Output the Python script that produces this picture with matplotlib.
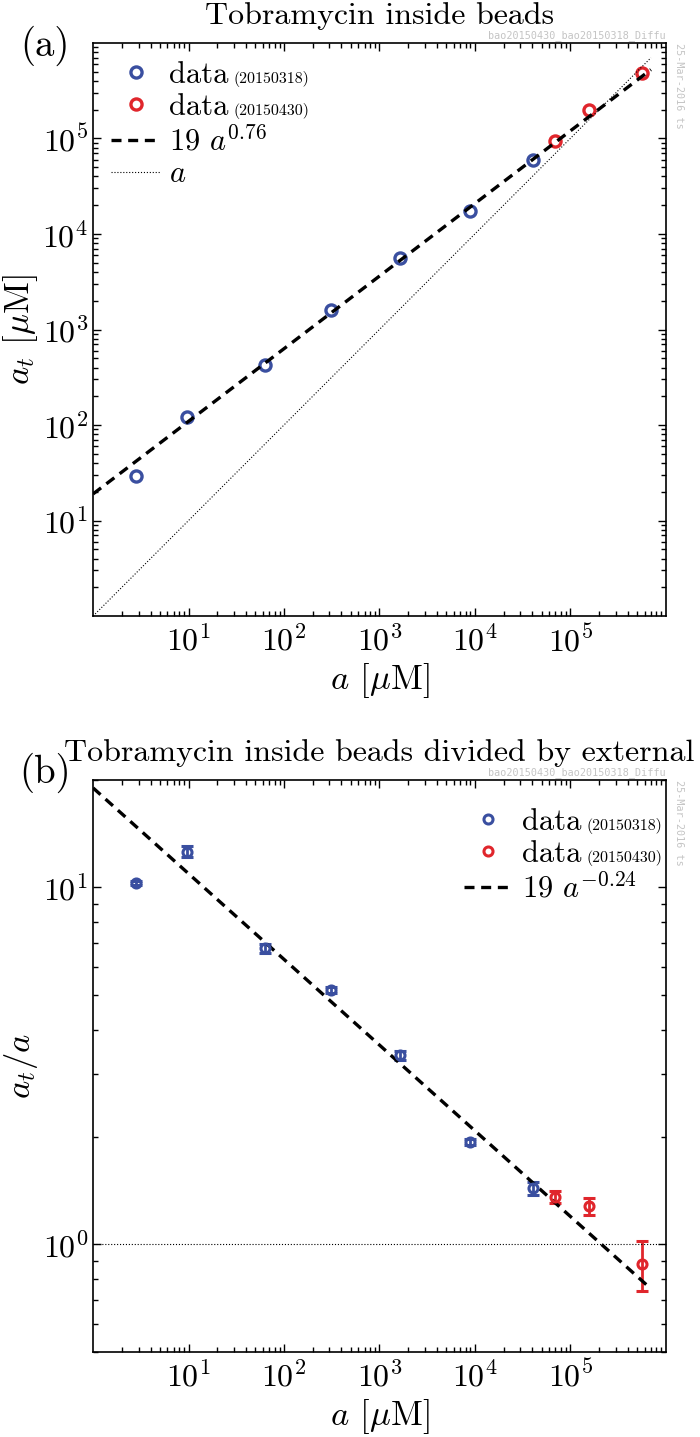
import matplotlib
matplotlib.use('Agg')
import matplotlib.pyplot as plt
from matplotlib.ticker import LogLocator, NullFormatter
import numpy as np

plt.rcParams['font.family'] = 'serif'
plt.rcParams['font.serif'] = ['cmr10']
plt.rcParams['mathtext.fontset'] = 'cm'
plt.rcParams['axes.formatter.use_mathtext'] = True
plt.rcParams['axes.unicode_minus'] = False

BLUE = '#3a4fa0'
RED = '#e0262c'
GREY = '#c4c4c4'

# data
a_blue = [2.8, 9.6, 63, 310, 1650, 9000, 41000]
at_blue = [29, 120, 425, 1600, 5600, 17500, 59000]
a_red = [69000, 157000, 560000]
at_red = [94000, 200000, 490000]

ratio_blue = [10.3, 12.6, 6.75, 5.16, 3.39, 1.94, 1.44]
ratio_blue_err = [0.15, 0.45, 0.18, 0.1, 0.1, 0.04, 0.06]
ratio_red = [1.36, 1.28, 0.88]
ratio_red_err = [0.05, 0.07, 0.14]

fit_coef = 19
fit_exp = 0.76
fit_a = np.logspace(0, np.log10(7e5), 200)

run_tags = ['(20150318)', '(20150430)']

fig = plt.figure(figsize=(7, 14.37), dpi=100)
ax1 = fig.add_axes([0.133, 0.5713, 0.818, 0.3988])
ax2 = fig.add_axes([0.133, 0.0592, 0.818, 0.398])


def style_axes(ax):
    ax.set_xscale('log')
    ax.set_yscale('log')
    ax.tick_params(which='both', direction='in', top=True, right=True,
                   labelsize=23, width=1.0)
    ax.tick_params(which='major', length=6)
    ax.tick_params(which='minor', length=3.5)
    ax.tick_params(axis='x', pad=6)
    ax.xaxis.set_major_locator(LogLocator(base=10, numticks=20))
    ax.xaxis.set_minor_locator(LogLocator(base=10, subs=np.arange(2, 10), numticks=20))
    ax.xaxis.set_minor_formatter(NullFormatter())
    ax.yaxis.set_minor_formatter(NullFormatter())
    for s in ax.spines.values():
        s.set_linewidth(1.2)
    ax.set_xlim(1, 1e6)
    ax.set_xticks([10, 100, 1e3, 1e4, 1e5])
    ax.set_xlabel(r'$a$ [$\mu$M]', fontsize=25, labelpad=3)


def watermark(ax):
    ax.text(1.0, 1.004, 'bao20150430_bao20150318_Diffu', transform=ax.transAxes,
            ha='right', va='bottom', fontsize=7.3, color=GREY, family='DejaVu Sans Mono')
    ax.text(1.014, 1.0, '25-Mar-2016 ts', transform=ax.transAxes, rotation=270,
            ha='left', va='top', fontsize=7.3, color=GREY, family='DejaVu Sans Mono')


leg_kw = dict(fontsize=22, frameon=False, handlelength=1.6, handletextpad=0.3,
              labelspacing=0.15, borderaxespad=0.3, borderpad=0.3)

# panel (a)
style_axes(ax1)
ax1.set_ylim(1, 1e6)
ax1.set_yticks([10, 100, 1e3, 1e4, 1e5])
ax1.yaxis.set_minor_locator(LogLocator(base=10, subs=np.arange(2, 10), numticks=20))
ax1.plot(a_blue, at_blue, 'o', mfc='none', mec=BLUE, mew=2.4, ms=8, label='data')
ax1.plot(a_red, at_red, 'o', mfc='none', mec=RED, mew=2.4, ms=8, label='data')
ax1.plot(fit_a, fit_coef * fit_a ** fit_exp, color='black', lw=2.4,
         linestyle=(0, (3.0, 2.0)), label=r'19 $a^{0.76}$')
ax1.plot(fit_a, fit_a, color='black', lw=0.8, linestyle=':', label=r'$a$')
ax1.set_ylabel(r'$a_t$ [$\mu$M]', fontsize=25, labelpad=2)
ax1.set_title('Tobramycin inside beads', fontsize=23, pad=14)
leg1 = ax1.legend(loc='upper left', **leg_kw)
fig.text(0.064, 0.968, '(a)', fontsize=28, ha='center', va='center')
watermark(ax1)

# panel (b)
style_axes(ax2)
ax2.set_ylim(0.5, 20)
ax2.yaxis.set_major_locator(LogLocator(base=10, numticks=20))
ax2.yaxis.set_minor_locator(LogLocator(base=10, subs=np.arange(2, 10), numticks=20))
eb1 = ax2.errorbar(a_blue, ratio_blue, yerr=ratio_blue_err, fmt='o', mfc='none', mec=BLUE,
                   ecolor=BLUE, mew=2.2, ms=6.5, elinewidth=2, capsize=4, capthick=2)
eb2 = ax2.errorbar(a_red, ratio_red, yerr=ratio_red_err, fmt='o', mfc='none', mec=RED,
                   ecolor=RED, mew=2.2, ms=6.5, elinewidth=2, capsize=4, capthick=2)
fit_line, = ax2.plot(fit_a, fit_coef * fit_a ** (fit_exp - 1), color='black', lw=2.4,
                     linestyle=(0, (3.0, 2.0)))
ax2.axhline(1.0, color='black', lw=0.8, linestyle=':')
ax2.set_ylabel(r'$a_t/a$', fontsize=25, labelpad=2)
ax2.set_title('Tobramycin inside beads divided by external', fontsize=23, pad=14)
leg2 = ax2.legend([eb1[0], eb2[0], fit_line], ['data', 'data', r'19 $a^{-0.24}$'],
                  loc='upper left', bbox_to_anchor=(0.615, 0.982), **leg_kw)
fig.text(0.064, 0.462, '(b)', fontsize=28, ha='center', va='center')
watermark(ax2)

# small run tags after each "data" legend entry
fig.canvas.draw()
renderer = fig.canvas.get_renderer()
for leg in (leg1, leg2):
    for txt, tag in zip(leg.get_texts()[:2], run_tags):
        bb = txt.get_window_extent(renderer)
        x, y = fig.transFigure.inverted().transform((bb.x1 + 5, bb.y0 + 2))
        fig.text(x, y, tag, fontsize=11.5, ha='left', va='bottom')

fig.savefig('out.png', dpi=100)
